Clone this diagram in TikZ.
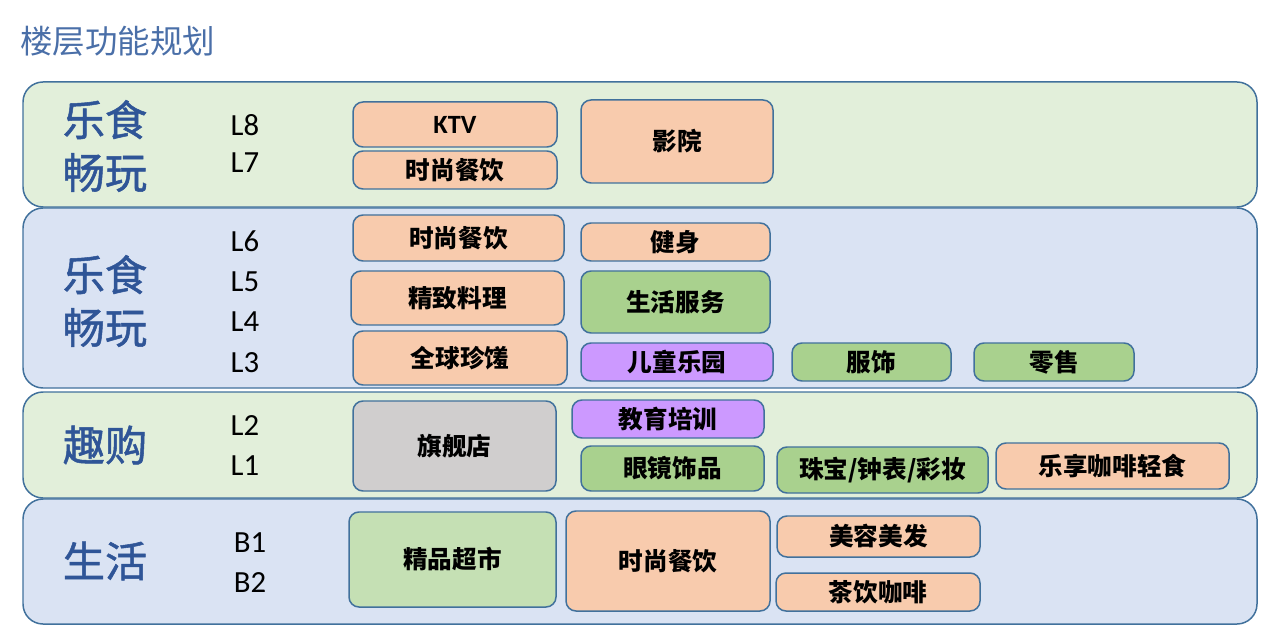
\documentclass[tikz,border=0pt]{standalone}
\usepackage{fontspec}
\setmainfont{Carlito}
\newfontfamily\cjk{Noto Sans CJK SC}
\newfontfamily\cjkhead[FakeBold=1.2]{Noto Sans CJK SC}
\usetikzlibrary{positioning}
\definecolor{cEdge}{HTML}{41719C}
\definecolor{cBandG}{HTML}{E2EFDA}
\definecolor{cBandB}{HTML}{DAE3F3}
\definecolor{cOrange}{HTML}{F8CBAD}
\definecolor{cGreen}{HTML}{A9D18E}
\definecolor{cLight}{HTML}{C5E0B4}
\definecolor{cPurple}{HTML}{CC99FF}
\definecolor{cGray}{HTML}{D0CECE}
\definecolor{cHead}{HTML}{2F5597}
\definecolor{cTitle}{HTML}{4A6FA8}
\begin{document}
\begin{tikzpicture}[x=.2mm,y=-.2mm,
  band/.style={draw=cEdge,line width=.85pt,rounded corners=4mm,inner sep=0pt},
  unit/.style={draw=cEdge,line width=.85pt,rounded corners=2mm,inner sep=0pt,
    font=\cjk\bfseries\fontsize{14}{15}\selectfont},
  sz/.style 2 args={minimum width=#1*.2mm,minimum height=#2*.2mm},
  head/.style={text=cHead,align=center,font=\cjkhead\fontsize{24}{30}\selectfont},
  level/.style={font=\fontsize{17.5}{18}\selectfont}]
\path[use as bounding box] (0,0) rectangle (1285,642);
\node[anchor=west,text=cTitle,font=\cjk\fontsize{18.5}{20}\selectfont] (title) at (14,41) {楼层功能规划};
% floor bands
\node[band,fill=cBandG,sz={1234}{125}] (band1) at (640,144.5) {};
\node[band,fill=cBandB,sz={1234}{180}] (band2) at (640,298) {};
\node[band,fill=cBandG,sz={1234}{106}] (band3) at (640,445) {};
\node[band,fill=cBandB,sz={1234}{125}] (band4) at (640,561.5) {};
\node[head] (head1) at (105,146) {乐食\\畅玩};
\node[head] (head2) at (105,301) {乐食\\畅玩};
\node[head] (head3) at (105,445) {趣购};
\node[head] (head4) at (105,561) {生活};
\foreach \lv/\x/\y in {L8/245/125,L7/245/163,L6/245/241,L5/245/282,L4/245/322,L3/245/363,
  L2/245/426,L1/245/466,B1/250/543,B2/250/583}
  \node[level] (lv\lv) at (\x,\y) {\lv};
% L8--L7
\node[unit,fill=cOrange,sz={204}{45}] (ktv) at (455,124.5) {\fontspec{Carlito}\bfseries\fontsize{15}{16}\selectfont KTV};
\node[unit,fill=cOrange,sz={204}{38}] (food7) at (455,170) {时尚餐饮};
\node[unit,fill=cOrange,sz={192}{83}] (cinema) at (677,141.5) {影院};
% L6--L3
\node[unit,fill=cOrange,sz={211}{46}] (food6) at (458.5,238) {时尚餐饮};
\node[unit,fill=cOrange,sz={189}{38}] (gym) at (675.5,242) {健身};
\node[unit,fill=cOrange,sz={213}{54}] (fine) at (457.5,298) {精致料理};
\node[unit,fill=cGreen,sz={189}{62}] (service) at (675.5,302) {生活服务};
\node[unit,fill=cOrange,sz={214}{54}] (global) at (460,358) {全球珍馐};
\node[unit,fill=cPurple,sz={192}{38}] (kids) at (677,362) {儿童乐园};
\node[unit,fill=cGreen,sz={159}{38}] (wear) at (871.5,362) {服饰};
\node[unit,fill=cGreen,sz={160}{38}] (retail) at (1054,362) {零售};
% L2--L1
\node[unit,fill=cGray,sz={203}{90}] (flag) at (454.5,446) {旗舰店};
\node[unit,fill=cPurple,sz={192}{38}] (edu) at (668,419) {教育培训};
\node[unit,fill=cGreen,sz={183}{45}] (glass) at (672.5,468.5) {眼镜饰品};
\node[unit,fill=cGreen,sz={211}{46}] (jewel) at (882.5,470) {珠宝/钟表/彩妆};
\node[unit,fill=cOrange,sz={233}{46}] (cafe) at (1112.5,466) {乐享咖啡轻食};
% B1--B2
\node[unit,fill=cLight,sz={207}{95}] (market) at (452.5,559.5) {精品超市};
\node[unit,fill=cOrange,sz={204}{100}] (foodB) at (668,561) {时尚餐饮};
\node[unit,fill=cOrange,sz={203}{41}] (beauty) at (878.5,536.5) {美容美发};
\node[unit,fill=cOrange,sz={204}{38}] (tea) at (878,592) {茶饮咖啡};
\end{tikzpicture}
\end{document}
